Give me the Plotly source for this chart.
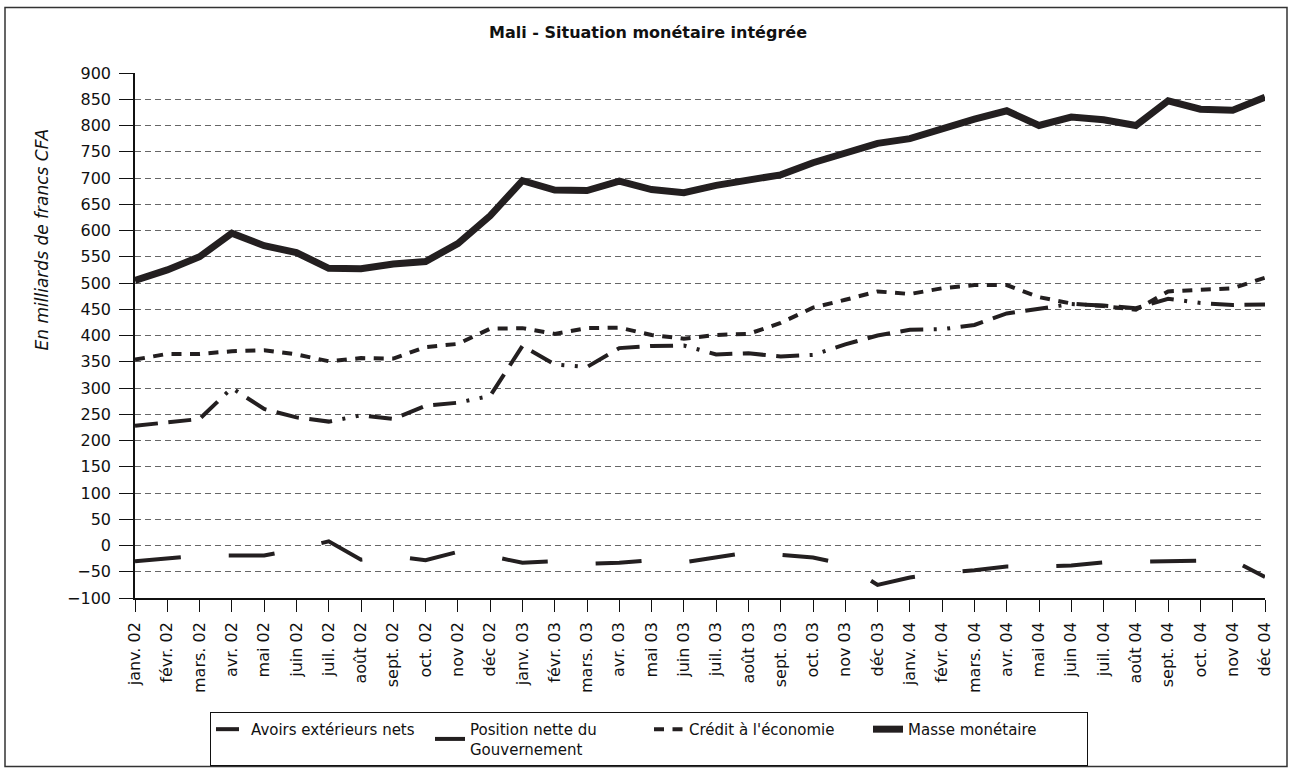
import plotly.graph_objects as go

months = ["janv. 02", "févr. 02", "mars. 02", "avr. 02", "mai 02", "juin 02", "juil. 02", "août 02",
          "sept. 02", "oct. 02", "nov 02", "déc 02",
          "janv. 03", "févr. 03", "mars. 03", "avr. 03", "mai 03", "juin 03", "juil. 03", "août 03",
          "sept. 03", "oct. 03", "nov 03", "déc 03",
          "janv. 04", "févr. 04", "mars. 04", "avr. 04", "mai 04", "juin 04", "juil. 04", "août 04",
          "sept. 04", "oct. 04", "nov 04", "déc 04"]

avoirs_exterieurs = [228, 234, 241, 300, 260, 244, 236, 248, 241, 266, 272, 285,
                     380, 345, 340, 376, 380, 381, 364, 366, 360, 363, 383, 400,
                     411, 412, 420, 442, 451, 460, 457, 452, 470, 462, 458, 459]

position_gouvernement = [-30, -25, -19, -19, -19, -7, 8, -27, -20, -28, -12, -20,
                         -33, -30, -35, -33, -28, -32, -22, -13, -18, -23, -36, -75,
                         -61, -52, -47, -40, -40, -38, -32, -31, -30, -30, -28, -60]

credit_economie = [354, 365, 365, 370, 372, 364, 351, 357, 356, 378, 384, 413,
                   414, 403, 414, 415, 401, 394, 401, 403, 424, 453, 468, 484,
                   479, 490, 496, 496, 473, 461, 456, 449, 484, 487, 490, 510]

masse_monetaire = [505, 525, 550, 595, 571, 558, 528, 527, 536, 541, 575, 628,
                   695, 677, 676, 694, 678, 672, 686, 695, 706, 729, 748, 766,
                   775, 795, 812, 828, 800, 816, 811, 800, 847, 831, 829, 854]

series_names = ["Avoirs extérieurs nets", "Position nette du<br>Gouvernement",
                "Crédit à l'économie", "Masse monétaire"]

INK = "#231f20"
FONT = "DejaVu Sans"

fig = go.Figure()
fig.add_trace(go.Scatter(
    x=months, y=avoirs_exterieurs, mode="lines", name=series_names[0],
    line=dict(color=INK, width=4,
              dash="23px,10.5px,23px,10.5px,23px,10.5px,3px,10.5px,3px,10.5px")))
fig.add_trace(go.Scatter(
    x=months, y=position_gouvernement, mode="lines", name=series_names[1],
    line=dict(color=INK, width=4, dash="46px,48px")))
fig.add_trace(go.Scatter(
    x=months, y=credit_economie, mode="lines", name=series_names[2],
    line=dict(color=INK, width=4, dash="10px,8.5px")))
fig.add_trace(go.Scatter(
    x=months, y=masse_monetaire, mode="lines", name=series_names[3],
    line=dict(color=INK, width=7)))

fig.update_layout(
    width=1291, height=778,
    margin=dict(l=135, r=26, t=73, b=175),
    paper_bgcolor="white", plot_bgcolor="white",
    font=dict(family=FONT, size=16, color="#111"),
    title=dict(text="<b>Mali - Situation monétaire intégrée</b>",
               font=dict(family=FONT, size=16, color="#111"),
               x=(648 / 1291), xref="container", xanchor="center",
               y=1 - 32 / 778, yref="container", yanchor="middle"),
    showlegend=True,
    legend=dict(orientation="h", x=(210 - 135) / 1130, y=(603 - 718) / 530,
                xanchor="left", yanchor="top",
                bordercolor="#111", borderwidth=1, bgcolor="white",
                font=dict(family=FONT, size=15, color="#111"),
                itemwidth=30, entrywidth=174, entrywidthmode="pixels"),
    xaxis=dict(type="category", range=[0, 35], showgrid=False,
               ticks="outside", ticklen=12, tickcolor="#111", tickwidth=1,
               tickangle=-90, showline=True, linecolor="#111", linewidth=1.5,
               ticklabelstandoff=4,
               tickfont=dict(family=FONT, size=16, color="#111"), zeroline=False),
    yaxis=dict(range=[-100, 900], dtick=50, tick0=0,
               showgrid=True, gridcolor="#666", gridwidth=1, griddash="6px,4px",
               ticks="outside", ticklen=14, tickcolor="#111", tickwidth=1,
               showline=True, linecolor="#111", linewidth=1.5, zeroline=False,
               ticklabelstandoff=5,
               tickfont=dict(family=FONT, size=16, color="#111")),
)

fig.add_annotation(
    text="<i>En milliards de francs CFA</i>", textangle=-90,
    xref="paper", yref="paper", x=(42 - 135) / 1130, y=(603 - 241) / 530,
    xanchor="center", yanchor="middle", showarrow=False,
    font=dict(family=FONT, size=17, color="#111"))

fig.add_shape(type="rect", xref="paper", yref="paper",
              x0=(5 - 135) / 1130, x1=(1287 - 135) / 1130,
              y0=(603 - 773) / 530, y1=(603 - 7) / 530,
              line=dict(color="#333", width=1.5), fillcolor="rgba(0,0,0,0)", layer="below")

fig.write_html("out.html", config={"displayModeBar": False},
               post_script="document.body.style.margin='0';document.body.style.overflow='hidden';")
